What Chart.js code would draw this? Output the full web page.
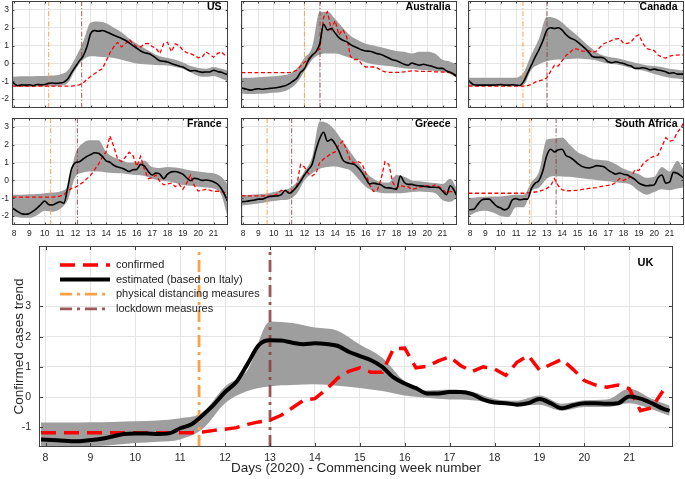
<!DOCTYPE html>
<html>
<head>
<meta charset="utf-8">
<script src="https://cdn.jsdelivr.net/npm/chart.js@4.4.1/dist/chart.umd.min.js"></script>
<style>
  html, body { margin: 0; padding: 0; background: #fff; }
  body { width: 685px; height: 479px; position: relative; overflow: hidden; }
  canvas { position: absolute; }
</style>
</head>
<body>
<script>
// Eje x: semanas (2020), puntos de muestreo de las curvas
const weeks = [7.9, 8.25, 8.5, 8.75, 9, 9.25, 9.5, 9.75, 10, 10.25, 10.5, 10.75, 11, 11.25, 11.5, 11.75,
  12, 12.25, 12.5, 12.75, 13, 13.25, 13.5, 13.75, 14, 14.25, 14.5, 14.75, 15, 15.25, 15.5, 15.75,
  16, 16.25, 16.5, 16.75, 17, 17.25, 17.5, 17.75, 18, 18.25, 18.5, 18.75, 19, 19.25, 19.5, 19.75,
  20, 20.25, 20.5, 20.75, 21, 21.25, 21.5, 21.75, 21.9];
// puntos de la banda gris (intervalo)
const bandWeeks = [7.9, 8.5, 9, 9.5, 10, 10.5, 11, 11.5, 12, 12.5, 13, 13.5, 14, 14.5, 15, 15.5,
  16, 16.5, 17, 17.5, 18, 18.5, 19, 19.5, 20, 20.5, 21, 21.5, 21.9];
const weekTicks = [8, 9, 10, 11, 12, 13, 14, 15, 16, 17, 18, 19, 20, 21];
const smallYTicks = [-2, -1, 0, 1, 2, 3];
const ukYTicks = [-1, 0, 1, 2, 3];

// US
const usConfirmed = [-1.27, -1.27, -1.27, -1.27, -1.27, -1.27, -1.27, -1.27, -1.27, -1.27, -1.27, -1.27, -1.27, -1.27, -1.27, -1.27,
  -1.24, -1.2, -1.1, -0.9, -0.72, -0.58, -0.42, -0.3, 0.12, 0.6, 0.93, 1.18, 0.93, 1.1, 1.35, 1.1,
  0.95, 0.92, 1.1, 1.12, 0.95, 0.85, 0.55, 1.1, 1.18, 0.65, 1.1, 1.0, 0.75, 0.6, 0.55, 0.45,
  0.32, 0.35, 0.65, 0.5, 0.35, 0.55, 0.65, 0.45, 0.4];
const usEstimated = [-1.05, -1.25, -1.2, -1.22, -1.2, -1.25, -1.18, -1.2, -1.18, -1.12, -1.1, -1.12, -1.1, -1.05, -0.88, -0.52,
  -0.19, 0.13, 0.41, 0.93, 1.68, 1.85, 1.8, 1.85, 1.78, 1.68, 1.58, 1.5, 1.4, 1.3, 1.15, 1.0,
  0.85, 0.7, 0.6, 0.55, 0.45, 0.3, 0.15, 0.12, 0.08, 0.0, -0.08, -0.15, -0.2, -0.32, -0.42, -0.4,
  -0.45, -0.5, -0.48, -0.48, -0.38, -0.45, -0.5, -0.58, -0.62];
const usBandHigh = [-0.75, -0.72, -0.72, -0.7, -0.7, -0.68, -0.62, -0.4, 0.3, 1.2, 2.3, 2.35, 2.25, 2.0, 1.75, 1.4,
  1.1, 0.85, 0.6, 0.4, 0.3, 0.2, 0.05, -0.15, -0.25, -0.3, -0.2, -0.3, -0.4];
const usBandLow = [-1.3, -1.32, -1.32, -1.3, -1.3, -1.28, -1.25, -1.1, -0.35, 0.2, 0.4, 0.38, 0.35, 0.3, 0.2, 0.1,
  0.0, -0.05, -0.08, -0.1, -0.12, -0.2, -0.3, -0.5, -0.7, -0.75, -0.7, -0.85, -1.0];
const usMeasures = [10.26, 12.41]; // distanciamiento, confinamiento

// Australia
const auConfirmed = [-0.52, -0.52, -0.52, -0.52, -0.52, -0.52, -0.52, -0.52, -0.52, -0.52, -0.52, -0.52, -0.52, -0.48, -0.38, -0.15,
  0.05, 0.25, 0.45, 0.65, 0.8, 2.6, 2.9, 1.9, 2.4, 1.6, 1.9, 1.5, 0.4, 0.22, 0.22, -0.05,
  -0.2, -0.2, -0.2, -0.25, -0.4, -0.47, -0.5, -0.5, -0.5, -0.5, -0.47, -0.45, -0.42, -0.42, -0.45, -0.45,
  -0.45, -0.45, -0.47, -0.47, -0.48, -0.5, -0.52, -0.6, -0.65];
const auEstimated = [-1.38, -1.45, -1.5, -1.45, -1.42, -1.45, -1.42, -1.4, -1.38, -1.35, -1.3, -1.25, -1.15, -1.0, -0.84, -0.5,
  -0.3, 0.15, 0.45, 0.65, 1.1, 2.2, 1.87, 1.96, 1.7, 1.45, 1.3, 1.22, 1.05, 0.95, 0.85, 0.75,
  0.7, 0.68, 0.62, 0.55, 0.5, 0.4, 0.3, 0.2, 0.15, 0.05, -0.05, -0.1, 0.02, -0.05, -0.1, -0.05,
  -0.1, -0.15, -0.22, -0.28, -0.28, -0.42, -0.5, -0.62, -0.72];
const auBandHigh = [-0.8, -0.8, -0.78, -0.75, -0.72, -0.68, -0.6, -0.3, 0.3, 0.9, 2.9, 2.9, 2.5, 2.0, 1.55, 1.3,
  1.1, 1.0, 0.9, 0.8, 0.7, 0.65, 0.55, 0.65, 0.65, 0.55, 0.2, 0.1, -0.05];
const auBandLow = [-1.68, -1.72, -1.7, -1.68, -1.65, -1.6, -1.45, -1.1, -0.45, 0.2, 0.5, 0.55, 0.55, 0.45, 0.3, 0.2,
  0.05, -0.05, -0.1, -0.15, -0.22, -0.28, -0.3, -0.35, -0.38, -0.42, -0.45, -0.6, -0.8];
const auMeasures = [12.0, 13.02];

// Canada
const caConfirmed = [-1.27, -1.27, -1.27, -1.27, -1.27, -1.27, -1.27, -1.27, -1.27, -1.27, -1.27, -1.27, -1.27, -1.27, -1.27, -1.25,
  -1.18, -1.05, -0.98, -0.92, -0.82, -0.45, -0.1, -0.15, 0.15, 0.45, 0.6, 0.82, 0.8, 0.7, 0.68, 0.72,
  0.6, 0.7, 0.93, 1.12, 1.2, 1.3, 1.37, 1.4, 1.12, 1.12, 1.2, 1.5, 1.6, 1.15, 0.84, 0.78,
  0.72, 0.47, 0.35, 0.3, 0.41, 0.45, 0.47, 0.48, 0.48];
const caEstimated = [-0.95, -1.2, -1.22, -1.22, -1.22, -1.22, -1.22, -1.2, -1.18, -1.22, -1.22, -1.2, -1.22, -1.24, -1.0, -0.56,
  -0.1, 0.37, 0.78, 1.27, 1.85, 2.0, 1.96, 2.0, 1.87, 1.62, 1.44, 1.35, 1.21, 1.03, 0.84, 0.6,
  0.37, 0.34, 0.34, 0.28, 0.09, 0.04, 0.09, 0.04, 0.0, -0.09, -0.15, -0.28, -0.28, -0.24, -0.28, -0.37,
  -0.32, -0.37, -0.41, -0.47, -0.56, -0.52, -0.6, -0.6, -0.6];
const caBandHigh = [-0.8, -0.8, -0.8, -0.8, -0.8, -0.8, -0.8, -0.5, 0.5, 1.4, 2.6, 2.55, 2.3, 1.9, 1.55, 1.15,
  0.8, 0.5, 0.38, 0.3, 0.2, 0.1, 0.0, -0.1, -0.15, -0.2, -0.3, -0.35, -0.4];
const caBandLow = [-1.28, -1.28, -1.28, -1.28, -1.28, -1.28, -1.28, -1.2, -0.35, -0.05, 0.12, 0.2, 0.22, 0.25, 0.28, 0.25,
  0.2, 0.1, 0.0, -0.05, -0.15, -0.25, -0.35, -0.45, -0.6, -0.7, -0.8, -0.85, -0.9];
const caMeasures = [11.45, 13.02];

// France
const frConfirmed = [-0.94, -0.94, -0.94, -0.94, -0.94, -0.94, -0.94, -0.94, -0.94, -0.94, -0.94, -0.92, -0.88, -0.8, -0.6, -0.45,
  -0.38, -0.25, -0.1, 0.1, 0.3, 0.6, 0.9, 1.3, 1.6, 2.5, 1.9, 1.2, 1.05, 1.3, 1.58, 1.4,
  0.8, 1.35, 0.6, 0.1, 0.15, 0.3, -0.05, -0.25, -0.2, -0.15, -0.35, -0.2, -0.5, -0.15, 0.3, -0.3,
  -0.6, -0.55, -0.5, -0.55, -0.62, -0.6, -0.62, -0.68, -0.72];
const frEstimated = [-1.55, -1.75, -1.87, -1.9, -1.85, -1.72, -1.55, -1.35, -1.15, -1.35, -1.38, -1.28, -1.2, -1.28, -0.4, 0.65,
  1.0, 1.05, 1.2, 1.35, 1.45, 1.55, 1.52, 1.35, 1.1, 1.02, 0.85, 0.75, 0.7, 0.6, 0.5, 0.6,
  0.62, 0.9, 0.8, 0.5, 0.3, 0.42, 0.35, 0.1, 0.35, 0.48, 0.5, 0.45, 0.35, 0.15, -0.02, 0.12,
  0.08, 0.0, 0.02, 0.0, -0.08, -0.2, -0.45, -0.85, -1.15];
const frBandHigh = [-0.8, -0.8, -0.78, -0.76, -0.72, -0.68, -0.62, -0.3, 1.5, 2.1, 2.25, 2.25, 1.6, 1.3, 1.15, 1.0,
  1.0, 1.1, 0.75, 0.7, 0.75, 0.72, 0.65, 0.55, 0.5, 0.45, 0.4, 0.2, -0.2];
const frBandLow = [-2.0, -2.1, -2.1, -1.95, -1.7, -1.75, -1.6, -1.1, 0.2, 0.45, 0.5, 0.5, 0.45, 0.42, 0.4, 0.35,
  0.3, 0.25, 0.1, 0.0, -0.05, -0.15, -0.25, -0.3, -0.35, -0.4, -0.45, -0.8, -2.0];
const frMeasures = [10.39, 12.13];

// Greece
const grConfirmed = [-0.87, -0.87, -0.87, -0.87, -0.87, -0.87, -0.87, -0.87, -0.85, -0.75, -0.55, -0.6, -0.65, -0.55, -0.3, 0.9,
  0.75, 0.4, 0.25, 0.4, 1.0, 1.2, 1.35, 1.5, 1.6, 2.0, 2.2, 1.7, 1.1, 0.98, 1.05, 0.95,
  0.4, -0.25, -0.62, -0.55, 0.1, 1.05, 0.9, -0.1, -0.43, -0.28, -0.35, -0.35, -0.5, -0.45, -0.38, -0.35,
  -0.3, -0.35, -0.25, -0.35, -0.5, -0.7, -0.62, -0.65, -0.7];
const grEstimated = [-1.2, -1.17, -1.13, -1.1, -1.05, -1.05, -0.97, -0.9, -0.88, -0.87, -0.8, -0.55, -0.72, -0.6, -0.35, -0.05,
  0.3, 0.6, 0.9, 1.7, 2.35, 2.7, 2.2, 2.3, 2.05, 1.65, 1.15, 1.0, 0.95, 0.9, 0.72, 0.45,
  0.1, -0.2, -0.15, -0.2, -0.25, -0.4, -0.42, -0.45, -0.5, 0.25, -0.1, -0.22, -0.22, -0.28, -0.3, -0.32,
  -0.35, -0.38, -0.38, -0.4, -0.6, -0.8, -0.3, -0.55, -0.82];
const grBandHigh = [-0.82, -0.8, -0.78, -0.75, -0.65, -0.55, -0.45, -0.1, 0.5, 1.3, 3.3, 3.2, 2.8, 2.2, 1.6, 1.0,
  0.45, 0.1, -0.1, -0.12, 0.3, 0.2, 0.0, -0.05, -0.1, -0.15, -0.2, 0.1, -0.4];
const grBandLow = [-1.4, -1.35, -1.3, -1.22, -1.15, -1.1, -1.05, -0.75, 0.0, 0.4, 0.65, 0.75, 0.78, 0.7, 0.55, 0.1,
  -0.35, -0.6, -0.7, -0.72, -0.72, -0.7, -0.65, -0.62, -0.65, -0.7, -1.1, -1.2, -1.0];
const grMeasures = [9.57, 11.17];

// South Africa
const saConfirmed = [-0.72, -0.72, -0.72, -0.72, -0.72, -0.72, -0.72, -0.72, -0.72, -0.72, -0.72, -0.72, -0.72, -0.72, -0.72, -0.7,
  -0.68, -0.65, -0.62, -0.55, -0.45, -0.3, 0.1, -0.3, -0.52, -0.58, -0.58, -0.57, -0.55, -0.52, -0.48, -0.45,
  -0.42, -0.4, -0.35, -0.3, -0.28, -0.25, -0.1, 0.1, 0.0, 0.1, 0.2, 0.6, 0.55, 0.9, 1.1, 1.25,
  1.36, 1.42, 1.9, 2.4, 2.2, 2.25, 2.68, 2.96, 3.2];
const saEstimated = [-1.65, -1.62, -1.35, -1.1, -1.05, -1.05, -1.25, -1.45, -1.55, -1.65, -1.55, -1.1, -1.02, -1.08, -1.05, -1.05,
  -0.45, -0.15, 0.0, 0.55, 1.4, 1.75, 1.6, 1.72, 1.75, 1.4, 1.3, 1.15, 0.95, 0.8, 0.72, 0.7,
  0.75, 0.83, 0.8, 0.75, 0.58, 0.45, 0.35, 0.42, 0.35, 0.3, 0.18, 0.05, -0.15, -0.25, -0.3, -0.28,
  -0.25, 0.15, 0.3, -0.15, -0.1, 0.45, 0.4, 0.25, 0.15];
const saBandHigh = [-1.0, -0.95, -0.92, -0.9, -0.9, -0.85, -0.8, -0.8, -0.1, 0.5, 2.3, 2.35, 2.4, 2.0, 1.6, 1.4,
  1.2, 1.15, 1.1, 0.9, 0.65, 0.5, 0.35, 0.15, 0.2, 0.75, 0.5, 1.1, 0.6];
const saBandLow = [-2.0, -1.75, -1.7, -1.8, -2.0, -2.05, -1.5, -1.5, -0.6, -0.4, 0.1, 0.25, 0.22, 0.2, 0.15, 0.1,
  0.05, 0.0, -0.05, -0.1, -0.15, -0.25, -0.6, -0.8, -0.65, -0.5, -0.55, -0.45, -0.4];
const saMeasures = [11.89, 13.61];

// UK
const ukConfirmed = [-1.18, -1.18, -1.18, -1.18, -1.18, -1.18, -1.18, -1.18, -1.18, -1.18, -1.18, -1.18, -1.18, -1.18, -1.15, -1.1,
  -1.06, -1.01, -0.9, -0.82, -0.76, -0.6, -0.35, -0.1, -0.05, 0.25, 0.62, 0.85, 0.97, 0.82, 0.82, 1.6,
  1.62, 0.97, 1.02, 1.2, 1.33, 1.04, 0.85, 1.0, 0.93, 0.72, 1.15, 1.38, 0.9, 1.08, 1.25, 0.92,
  0.55, 0.4, 0.33, 0.4, 0.28, -0.45, -0.35, 0.2, null];
const ukEstimated = [-1.4, -1.43, -1.45, -1.46, -1.42, -1.38, -1.3, -1.22, -1.2, -1.2, -1.22, -1.2, -1.03, -0.9, -0.6, -0.25,
  0.17, 0.5, 1.1, 1.72, 1.88, 1.87, 1.8, 1.75, 1.78, 1.76, 1.7, 1.5, 1.36, 1.22, 1.0, 0.65,
  0.45, 0.3, 0.12, 0.12, 0.17, 0.17, 0.1, -0.08, -0.18, -0.2, -0.25, -0.2, -0.06, -0.2, -0.37, -0.27,
  -0.2, -0.2, -0.22, -0.2, 0.02, -0.05, -0.2, -0.38, -0.45];
const ukBandHigh = [-0.84, -0.84, -0.83, -0.82, -0.8, -0.77, -0.7, -0.5, 0.35, 0.9, 2.5, 2.45, 2.3, 2.2, 1.74, 1.3,
  0.52, 0.22, 0.25, 0.18, -0.06, -0.12, 0.05, -0.22, -0.1, -0.08, 0.28, -0.05, -0.28];
const ukBandLow = [-1.64, -1.64, -1.62, -1.58, -1.52, -1.48, -1.4, -1.05, -0.2, 0.2, 0.36, 0.4, 0.43, 0.38, 0.3, 0.2,
  0.05, -0.02, -0.08, -0.1, -0.2, -0.28, -0.25, -0.45, -0.33, -0.33, -0.2, -0.4, -0.62];
const ukMeasures = [11.42, 13.0];

const FONT = "'Liberation Sans', Arial, Helvetica, sans-serif";
const GRID = '#e4e4e4';
const BAND = 'rgb(158,158,158)';
const RED = 'rgb(255,0,0)';
const ORANGE = 'rgb(255,160,70)';
const BROWN = 'rgba(140,60,60,0.85)';

function toPoints(xs, ys) {
  return xs.map((x, i) => ({ x: x, y: ys[i] }));
}

// Marco tipo MATLAB, titulo del panel y leyenda
const marco = {
  id: 'marco',
  afterDatasetsDraw(chart, args, o) {
    const ctx = chart.ctx;
    const a = chart.chartArea;
    const xs = chart.scales.x;
    const ys = chart.scales.y;
    ctx.save();
    ctx.strokeStyle = '#404040';
    ctx.lineWidth = 1;
    ctx.beginPath();
    xs.ticks.forEach(t => {
      const px = Math.round(xs.getPixelForValue(t.value)) + 0.5;
      ctx.moveTo(px, a.bottom); ctx.lineTo(px, a.bottom - o.tick);
      ctx.moveTo(px, a.top); ctx.lineTo(px, a.top + o.tick);
    });
    ys.ticks.forEach(t => {
      const py = Math.round(ys.getPixelForValue(t.value)) + 0.5;
      ctx.moveTo(a.left, py); ctx.lineTo(a.left + o.tick, py);
      ctx.moveTo(a.right, py); ctx.lineTo(a.right - o.tick, py);
    });
    ctx.stroke();
    ctx.strokeRect(a.left + 0.5, a.top + 0.5, a.width - 1, a.height - 1);

    ctx.fillStyle = '#000';
    ctx.font = 'bold ' + o.titleSize + 'px ' + FONT;
    ctx.textAlign = 'right';
    ctx.textBaseline = 'middle';
    ctx.fillText(o.title, a.right - o.titleRight, a.top + o.titleTop);

    if (o.legend) {
      ctx.font = o.legend.size + 'px ' + FONT;
      ctx.textAlign = 'left';
      o.legend.items.forEach((name, i) => {
        const ds = chart.data.datasets.find(d => d.label === name);
        const y = a.top + o.legend.top + i * o.legend.step;
        ctx.strokeStyle = ds.borderColor;
        ctx.lineWidth = ds.borderWidth;
        ctx.setLineDash(ds.borderDash || []);
        ctx.beginPath();
        ctx.moveTo(a.left + o.legend.x0, y);
        ctx.lineTo(a.left + o.legend.x1, y);
        ctx.stroke();
        ctx.setLineDash([]);
        ctx.fillStyle = '#222';
        ctx.fillText(name, a.left + o.legend.textX, y);
      });
    }
    ctx.restore();
  }
};

function drawPanel(p) {
  const [x0, y0, x1, y1] = p.box;
  const yW = p.yAxisW;
  const xH = p.xAxisH;
  const canvas = document.createElement('canvas');
  canvas.width = x1 - x0 + yW;
  canvas.height = y1 - y0 + xH;
  canvas.style.left = (x0 - yW) + 'px';
  canvas.style.top = y0 + 'px';
  document.body.appendChild(canvas);

  const s = p.style;
  const vline = (x, color) => ({
    label: color === ORANGE ? 'physical distancing measures' : 'lockdown measures',
    data: [{ x: x, y: p.yMin }, { x: x, y: p.yMax }],
    borderColor: color, borderWidth: s.vWidth, borderDash: s.vDash,
    pointRadius: 0, order: 3
  });

  new Chart(canvas, {
    type: 'line',
    data: {
      datasets: [
        { label: 'estimated (based on Italy)', data: toPoints(weeks, p.estimated), borderColor: '#000',
          borderWidth: s.blackWidth, pointRadius: 0, cubicInterpolationMode: 'monotone', order: 1 },
        { label: 'confirmed', data: toPoints(weeks, p.confirmed), borderColor: RED,
          borderWidth: s.redWidth, borderDash: s.redDash, pointRadius: 0, order: 2 },
        vline(p.measures[0], ORANGE),
        vline(p.measures[1], BROWN),
        { label: 'band', data: toPoints(bandWeeks, p.bandHigh), borderWidth: 0, pointRadius: 0,
          backgroundColor: BAND, fill: '+1', cubicInterpolationMode: 'monotone', order: 5 },
        { label: 'band low', data: toPoints(bandWeeks, p.bandLow), borderWidth: 0, pointRadius: 0,
          cubicInterpolationMode: 'monotone', order: 6 }
      ]
    },
    options: {
      responsive: false,
      animation: false,
      devicePixelRatio: 1,
      layout: { padding: 0 },
      events: [],
      plugins: {
        legend: { display: false },
        tooltip: { enabled: false },
        marco: { tick: s.tick, title: p.title, titleSize: s.titleSize, titleRight: s.titleRight,
                 titleTop: s.titleTop, legend: p.legend }
      },
      scales: {
        x: {
          type: 'linear', min: p.xMin, max: p.xMax,
          afterBuildTicks: sc => { sc.ticks = weekTicks.map(v => ({ value: v })); },
          afterFit: sc => { sc.height = xH; sc.paddingLeft = 0; sc.paddingRight = 0; },
          grid: { color: GRID, drawTicks: false },
          border: { display: false },
          ticks: { display: xH > 0, autoSkip: false, maxRotation: 0, padding: s.xPad, color: '#262626',
                   font: { family: FONT, size: s.tickSize } },
          title: p.xTitle ? { display: true, text: p.xTitle, color: '#262626',
                   font: { family: FONT, size: 13.5 }, padding: { top: 0, bottom: 3 } } : { display: false }
        },
        y: {
          min: p.yMin, max: p.yMax,
          afterBuildTicks: sc => { sc.ticks = p.yTicks.map(v => ({ value: v })); },
          afterFit: sc => { sc.width = yW; sc.paddingTop = 0; sc.paddingBottom = 0; },
          grid: { color: GRID, drawTicks: false },
          border: { display: false },
          ticks: { display: yW > 0, padding: s.yPad, color: '#262626',
                   font: { family: FONT, size: s.tickSize } },
          title: p.yTitle ? { display: true, text: p.yTitle, color: '#262626',
                   font: { family: FONT, size: 13.5 }, padding: { top: 11, bottom: 0 } } : { display: false }
        }
      }
    },
    plugins: [marco]
  });
}

const small = { blackWidth: 1.6, redWidth: 1.3, redDash: [4, 2.5], vWidth: 1, vDash: [5, 2, 1.2, 2],
  tick: 2.5, titleSize: 10.5, titleRight: 6.5, titleTop: 6.5, tickSize: 8.5, xPad: 4, yPad: 3 };
const large = { blackWidth: 4, redWidth: 3.5, redDash: [15, 8], vWidth: 2.8, vDash: [12, 5, 3, 5],
  tick: 4, titleSize: 11, titleRight: 19.5, titleTop: 16.5, tickSize: 10.5, xPad: 5, yPad: 8 };

const panels = [
  { title: 'US', box: [12, 1, 228, 108], yAxisW: 12, xAxisH: 0, confirmed: usConfirmed, estimated: usEstimated,
    bandHigh: usBandHigh, bandLow: usBandLow, measures: usMeasures },
  { title: 'Australia', box: [241, 1, 457, 108], yAxisW: 0, xAxisH: 0, confirmed: auConfirmed, estimated: auEstimated,
    bandHigh: auBandHigh, bandLow: auBandLow, measures: auMeasures },
  { title: 'Canada', box: [468, 1, 684, 108], yAxisW: 0, xAxisH: 0, confirmed: caConfirmed, estimated: caEstimated,
    bandHigh: caBandHigh, bandLow: caBandLow, measures: caMeasures },
  { title: 'France', box: [12, 118, 228, 225], yAxisW: 12, xAxisH: 16, confirmed: frConfirmed, estimated: frEstimated,
    bandHigh: frBandHigh, bandLow: frBandLow, measures: frMeasures },
  { title: 'Greece', box: [241, 118, 457, 225], yAxisW: 0, xAxisH: 16, confirmed: grConfirmed, estimated: grEstimated,
    bandHigh: grBandHigh, bandLow: grBandLow, measures: grMeasures },
  { title: 'South Africa', box: [468, 118, 684, 225], yAxisW: 0, xAxisH: 16, confirmed: saConfirmed, estimated: saEstimated,
    bandHigh: saBandHigh, bandLow: saBandLow, measures: saMeasures }
];

panels.forEach(p => {
  drawPanel(Object.assign({ style: small, xMin: 7.87, xMax: 21.94, yMin: -2.5, yMax: 3.5, yTicks: smallYTicks }, p));
});

// Panel grande del Reino Unido con leyenda
drawPanel({
  title: 'UK', box: [39, 246, 673, 447], yAxisW: 39, xAxisH: 32, style: large,
  xMin: 7.855, xMax: 21.975, yMin: -1.65, yMax: 5.0, yTicks: ukYTicks,
  confirmed: ukConfirmed, estimated: ukEstimated, bandHigh: ukBandHigh, bandLow: ukBandLow, measures: ukMeasures,
  xTitle: 'Days (2020) - Commencing week number', yTitle: 'Confirmed cases trend',
  legend: { size: 11, x0: 21, x1: 71, textX: 77, top: 19, step: 14.6,
            items: ['confirmed', 'estimated (based on Italy)', 'physical distancing measures', 'lockdown measures'] }
});
</script>
</body>
</html>
